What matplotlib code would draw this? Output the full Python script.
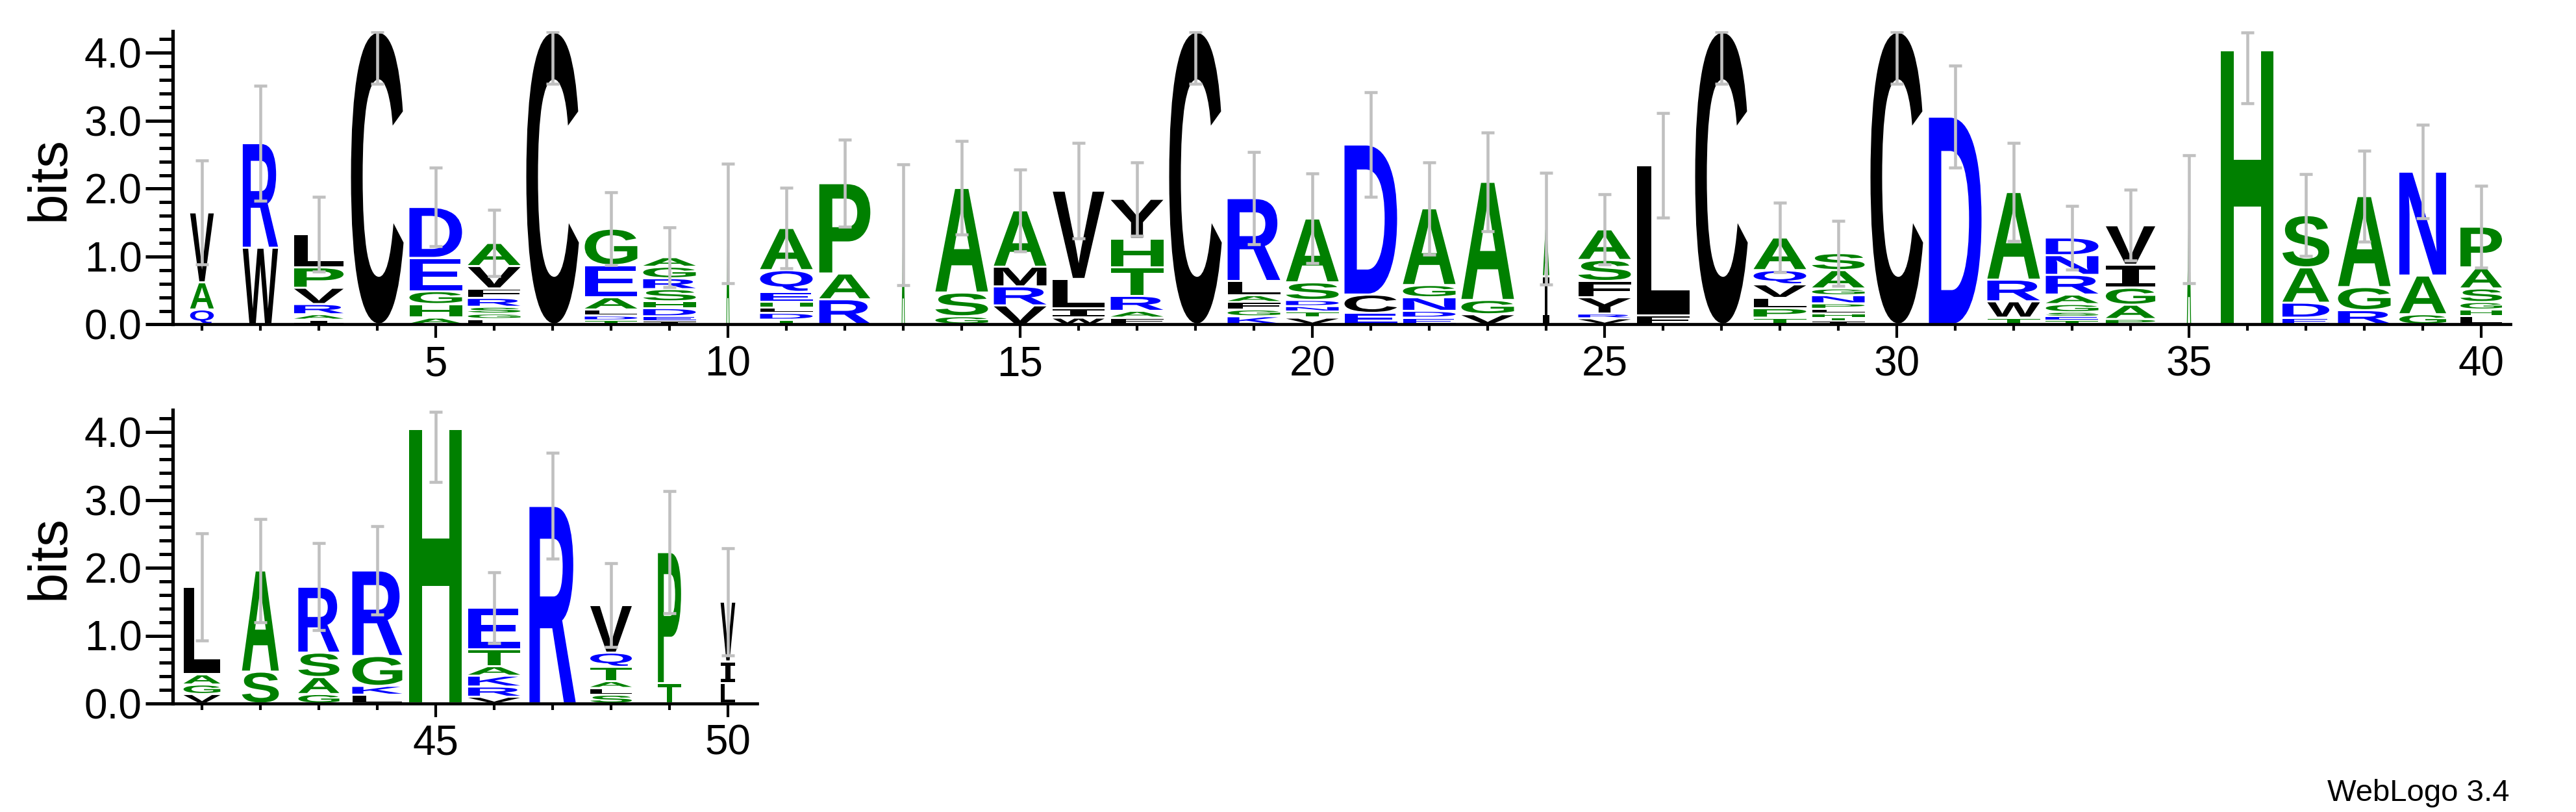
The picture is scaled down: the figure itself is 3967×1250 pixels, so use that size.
import matplotlib
matplotlib.use("Agg")
import matplotlib.pyplot as plt
from matplotlib.font_manager import FontProperties
from matplotlib.textpath import TextPath
from matplotlib.patches import PathPatch
from matplotlib.transforms import Affine2D
from matplotlib.ticker import MultipleLocator, FixedLocator

plt.rcParams['font.family'] = ['Liberation Sans', 'DejaVu Sans']

# letters of each column, bottom to top, and their heights in bits
stack_letters = [
    "QAV", "WR", "IARVPL", "C", "AHGED", "LGSRFVA", "C", "TDLAEG", "IEDHSRGA", "A",
    "TDLHEQA", "RAP", "A", "GSA", "VRMA", "WILV", "FARTHY", "C", "KGFALR", "VTNDSA",
    "ECD", "EDNGA", "VGA", "IA", "VRYFSA", "FL", "C", "TPLVQA", "ITHLPNGAS", "C",
    "D", "TWRA", "TESGARND", "PAGIV", "A", "H", "EDAS", "RGA", "GAN", "LHGSAP",
    "VGAL", "SA", "GASR", "LKGR", "H", "VRKATE", "R", "SLATQV", "TP", "LIV",
]
stack_heights = [
    [0.22, 0.40, 1.03], [1.13, 1.54], [0.07, 0.08, 0.15, 0.24, 0.30, 0.49], [4.31],
    [0.10, 0.20, 0.19, 0.49, 0.75], [0.08, 0.08, 0.10, 0.13, 0.14, 0.33, 0.34], [4.31],
    [0.06, 0.07, 0.09, 0.18, 0.47, 0.54], [0.05, 0.07, 0.12, 0.10, 0.18, 0.16, 0.17, 0.14],
    [1.49], [0.07, 0.10, 0.08, 0.08, 0.15, 0.32, 0.62], [0.37, 0.38, 1.33], [1.47],
    [0.12, 0.35, 1.54], [0.28, 0.28, 0.29, 0.83], [0.10, 0.14, 0.43, 1.30],
    [0.10, 0.10, 0.22, 0.42, 0.42, 0.59], [4.31], [0.12, 0.10, 0.11, 0.10, 0.21, 1.22],
    [0.10, 0.09, 0.08, 0.09, 0.26, 0.94], [0.17, 0.27, 2.21], [0.10, 0.10, 0.20, 0.18, 1.13],
    [0.15, 0.21, 1.74], [0.71, 0.70], [0.09, 0.07, 0.24, 0.24, 0.31, 0.45], [0.13, 2.21],
    [4.31], [0.10, 0.14, 0.15, 0.20, 0.21, 0.48],
    [0.05, 0.05, 0.06, 0.07, 0.08, 0.12, 0.10, 0.27, 0.25], [4.31],
    [3.06], [0.10, 0.24, 0.32, 1.29], [0.06, 0.06, 0.06, 0.12, 0.14, 0.29, 0.29, 0.26],
    [0.08, 0.21, 0.25, 0.34, 0.58], [1.55], [4.04], [0.10, 0.22, 0.52, 0.77],
    [0.21, 0.34, 1.34], [0.15, 0.57, 1.53], [0.12, 0.10, 0.11, 0.20, 0.31, 0.60],
    [0.14, 0.14, 0.15, 1.29], [0.47, 1.49], [0.14, 0.25, 0.36, 0.97], [0.13, 0.13, 0.44, 1.26],
    [4.04], [0.10, 0.15, 0.16, 0.14, 0.25, 0.61], [2.91], [0.13, 0.10, 0.10, 0.21, 0.21, 0.70],
    [0.30, 1.93], [0.30, 0.32, 0.88],
]
# fraction of full stack width (columns with gaps are narrower)
stack_widths = [
    0.45, 0.67, 0.94, 1.0, 1.0, 1.0, 1.0, 1.0, 1.0, 0.06,
    1.0, 0.97, 0.06, 1.0, 1.0, 0.98, 1.0, 1.0, 1.0, 1.0,
    1.0, 1.0, 1.0, 0.12, 1.0, 1.0, 1.0, 1.0, 1.0, 1.0,
    1.0, 1.0, 1.0, 0.94, 0.08, 1.0, 0.89, 1.0, 0.89, 0.79,
    0.70, 0.70, 0.78, 0.95, 1.0, 0.99, 0.88, 0.79, 0.44, 0.28,
]
error_bits = [
    0.77, 0.85, 0.55, 0.77, 0.58, 0.49, 0.77, 0.54, 0.44, 0.88,
    0.59, 0.64, 0.89, 0.69, 0.60, 0.70, 0.54, 0.77, 0.68, 0.66,
    0.77, 0.68, 0.73, 0.82, 0.52, 0.77, 0.77, 0.51, 0.48, 0.77,
    0.75, 0.72, 0.47, 0.52, 0.94, 0.78, 0.60, 0.67, 0.69, 0.60,
    0.79, 0.76, 0.64, 0.65, 0.78, 0.52, 0.78, 0.62, 0.90, 0.79,
]
positions = list(range(1, 51))
row_ranges = [(1, 40), (41, 50)]

# hydrophobicity colour scheme
colors = {}
for c in "RKDENQ":
    colors[c] = "#0000ff"
for c in "SGHTAP":
    colors[c] = "#008000"
for c in "YVMCLFIW":
    colors[c] = "#000000"

MAX_BITS = 4.3219
LETTER_FONT = FontProperties(family=['Liberation Sans', 'DejaVu Sans'], weight='bold')
SERIF_I_FONT = FontProperties(family=['DejaVu Sans Mono'], weight='bold')

W, H = 3967, 1250
BIT_PX = 104.5


def draw_letter(ax, ch, x0, y0, w, h, color):
    prop = SERIF_I_FONT if ch == "I" else LETTER_FONT
    tp = TextPath((0, 0), ch, size=1, prop=prop)
    bb = tp.get_extents()
    tr = Affine2D().translate(-bb.x0, -bb.y0).scale(w / bb.width, h / bb.height).translate(x0, y0)
    ax.add_patch(PathPatch(tr.transform_path(tp), facecolor=color, edgecolor='none', lw=0))


fig = plt.figure(figsize=(W / 100, H / 100), dpi=100)
ax_h = MAX_BITS * BIT_PX / H
axes = [
    fig.add_axes([266 / W, (H - 499.4) / H, 3600 / W, ax_h]),
    fig.add_axes([266 / W, (H - 1083) / H, 900 / W, ax_h]),
]

for ax, (first, last), label_y in zip(axes, row_ranges, [275, 858]):
    tops = []
    xs = []
    for p in range(first, last + 1):
        i = p - 1
        bw = 0.9 * stack_widths[i]
        y = 0.0
        for ch, h in zip(stack_letters[i], stack_heights[i]):
            g = 0.015 if h > 0.06 else h * 0.15
            draw_letter(ax, ch, p - bw / 2, y + g, bw, h - 2 * g, colors[ch])
            y += h
        tops.append(y)
        xs.append(p)
    errs = error_bits[first - 1:last]
    lower = errs
    upper = [max(0.0, min(t + e, 4.30) - t) for t, e in zip(tops, errs)]
    ax.errorbar(xs, tops, yerr=[lower, upper], fmt='none', ecolor='#c0c0c0',
                elinewidth=3.3, capsize=7.5, capthick=3.3, zorder=5)

    ax.set_xlim(first - 0.5, last + 0.5)
    ax.set_ylim(0, MAX_BITS)
    ax.spines['top'].set_visible(False)
    ax.spines['right'].set_visible(False)
    ax.spines['left'].set_linewidth(3.8)
    ax.spines['bottom'].set_linewidth(3.4)

    ax.yaxis.set_major_locator(FixedLocator([0, 1, 2, 3, 4]))
    ax.yaxis.set_minor_locator(MultipleLocator(0.2))
    ax.set_yticklabels(["0.0", "1.0", "2.0", "3.0", "4.0"])
    ax.tick_params(axis='y', which='major', length=30, width=3.6, labelsize=46, pad=4)
    ax.tick_params(axis='y', which='minor', length=15, width=3.6)

    ax.xaxis.set_major_locator(FixedLocator([p for p in range(first, last + 1) if p % 5 == 0]))
    ax.xaxis.set_minor_locator(FixedLocator(list(range(first, last + 1))))
    ax.tick_params(axis='x', which='major', length=15, width=3.0, labelsize=46, pad=8)
    ax.tick_params(axis='x', which='minor', length=7.5, width=3.0)

    fig.text(77 / W, 1 - label_y / H, "bits", rotation=90, ha='center', va='center', fontsize=60)

fig.text(3865 / W, (H - 1233) / H, "WebLogo 3.4", ha='right', va='baseline', fontsize=34)

fig.savefig("out.png", dpi=100)
